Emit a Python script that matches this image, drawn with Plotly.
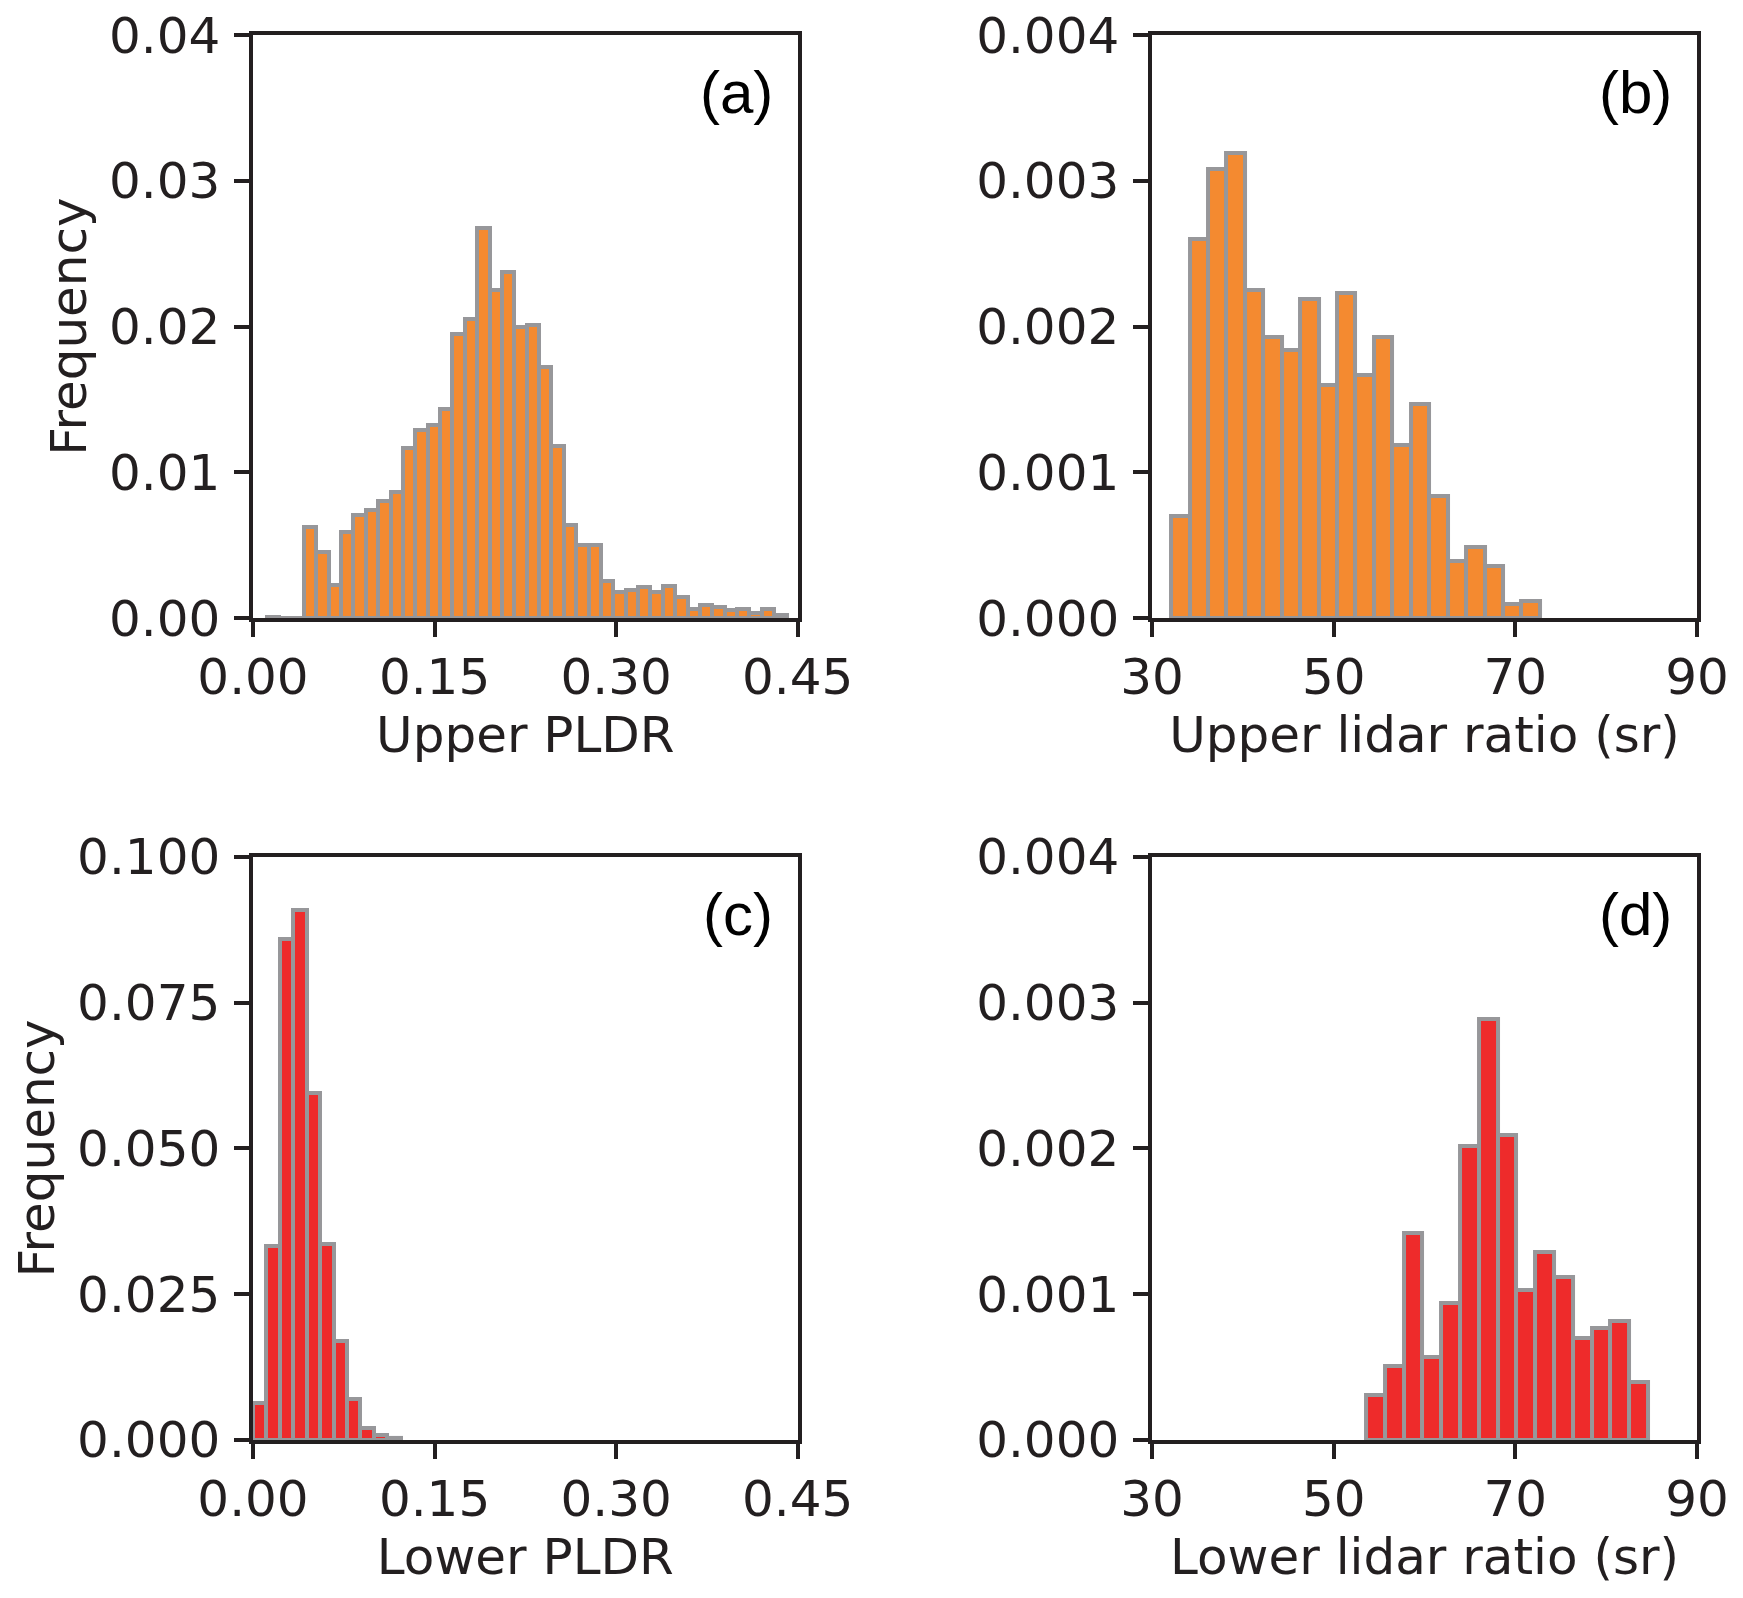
import numpy as np
import plotly.graph_objects as go

# Histogram bins: left edge of first bin, bin width, heights
pldr_up_start, pldr_up_width = 0.01135, 0.010225
pldr_up_freq = [0.0001, 0, 0, 0.00628, 0.00452, 0.00226, 0.00593, 0.0071, 0.00744,
                0.00806, 0.00863, 0.01164, 0.01292, 0.01326, 0.01433, 0.01952, 0.0205,
                0.02678, 0.02251, 0.02374, 0.02, 0.02009, 0.01724, 0.01178, 0.00639,
                0.00502, 0.00498, 0.00256, 0.0018, 0.00191, 0.00212, 0.00178, 0.00223,
                0.00146, 0.00061, 0.00089, 0.00073, 0.00054, 0.00059, 0.00036, 0.00059,
                0.00018]

lr_up_start, lr_up_width = 32.1, 2.03
lr_up_freq = [0.0007, 0.0026, 0.00308, 0.00319, 0.00225, 0.00193, 0.00184, 0.00219,
              0.0016, 0.00223, 0.00167, 0.00193, 0.00119, 0.00147, 0.00084, 0.00039,
              0.00049, 0.00036, 0.0001, 0.00012]

pldr_low_start, pldr_low_width = 0.0, 0.0111
pldr_low_freq = [0.0063, 0.0333, 0.0859, 0.0909, 0.0595, 0.0336, 0.0170, 0.0070,
                 0.0020, 0.0008, 0.0003]

lr_low_start, lr_low_width = 53.55, 2.07
lr_low_freq = [0.00031, 0.00051, 0.00142, 0.00057, 0.00094, 0.00202, 0.00289, 0.00209,
               0.00103, 0.00129, 0.00112, 0.0007, 0.00077, 0.00082, 0.0004]

pldr_ticks = [0, 0.15, 0.30, 0.45]
lr_ticks = [30, 50, 70, 90]

ORANGE = '#f48a30'
RED = '#ee2b2b'
EDGE = '#97979a'
INK = '#231f20'
FONT = 'DejaVu Sans'
FS = 50


def centers(start, width, n):
    return start + width * (np.arange(n) + 0.5)


def axis_style(**kw):
    d = dict(showline=True, linecolor=INK, linewidth=3.5, mirror=True,
             ticks='outside', ticklen=15, tickwidth=3.5, tickcolor=INK,
             showgrid=False, zeroline=False, automargin=False,
             ticklabeloverflow='allow',
             tickfont=dict(family=FONT, size=FS, color=INK))
    d.update(kw)
    return d


panels = [
    ('x', 'y', pldr_up_start, pldr_up_width, pldr_up_freq, ORANGE, '(a)'),
    ('x2', 'y2', lr_up_start, lr_up_width, lr_up_freq, ORANGE, '(b)'),
    ('x3', 'y3', pldr_low_start, pldr_low_width, pldr_low_freq, RED, '(c)'),
    ('x4', 'y4', lr_low_start, lr_low_width, lr_low_freq, RED, '(d)'),
]

fig = go.Figure()
for xa, ya, start, width, freq, color, label in panels:
    fig.add_trace(go.Bar(
        x=centers(start, width, len(freq)), y=freq, width=width,
        marker=dict(color=color, line=dict(color=EDGE, width=4)),
        xaxis=xa, yaxis=ya, showlegend=False))
    fig.add_annotation(
        text=label, xref=xa + ' domain', yref=ya + ' domain',
        x=0.958, y=0.902, xanchor='right', yanchor='middle', showarrow=False,
        font=dict(family='Liberation Sans', size=60, color='black'))

left_dom = [0, 0.3772]
right_dom = [0.6226, 1]
top_dom = [0.585, 1]
bot_dom = [0, 0.415]
title_font = dict(family=FONT, size=FS, color=INK)
xstyle = dict(ticklabelstandoff=-3)
ystyle = dict(ticklabelstandoff=4)

fig.update_layout(
    # page body keeps an 8px margin, so the figure is 8px smaller and shifted
    width=1735, height=1590,
    margin=dict(l=245, r=46, t=27, b=158),
    paper_bgcolor='white', plot_bgcolor='white',
    bargap=0,
    xaxis=axis_style(domain=left_dom, anchor='y', range=[0, 0.45],
                     tickvals=pldr_ticks, tickformat='.2f', **xstyle,
                     title=dict(text='Upper PLDR', font=title_font, standoff=12)),
    yaxis=axis_style(domain=top_dom, anchor='x', range=[0, 0.04], dtick=0.01,
                     tickformat='.2f', **ystyle,
                     title=dict(text='Frequency', font=title_font, standoff=7)),
    xaxis2=axis_style(domain=right_dom, anchor='y2', range=[30, 90],
                      tickvals=lr_ticks, **xstyle,
                      title=dict(text='Upper lidar ratio (sr)', font=title_font, standoff=12)),
    yaxis2=axis_style(domain=top_dom, anchor='x2', range=[0, 0.004], dtick=0.001,
                      tickformat='.3f', **ystyle),
    xaxis3=axis_style(domain=left_dom, anchor='y3', range=[0, 0.45],
                      tickvals=pldr_ticks, tickformat='.2f', **xstyle,
                      title=dict(text='Lower PLDR', font=title_font, standoff=12)),
    yaxis3=axis_style(domain=bot_dom, anchor='x3', range=[0, 0.1], dtick=0.025,
                      tickformat='.3f', **ystyle,
                      title=dict(text='Frequency', font=title_font, standoff=20)),
    xaxis4=axis_style(domain=right_dom, anchor='y4', range=[30, 90],
                      tickvals=lr_ticks, **xstyle,
                      title=dict(text='Lower lidar ratio (sr)', font=title_font, standoff=12)),
    yaxis4=axis_style(domain=bot_dom, anchor='x4', range=[0, 0.004], dtick=0.001,
                      tickformat='.3f', **ystyle),
)

fig.write_html("out.html")
